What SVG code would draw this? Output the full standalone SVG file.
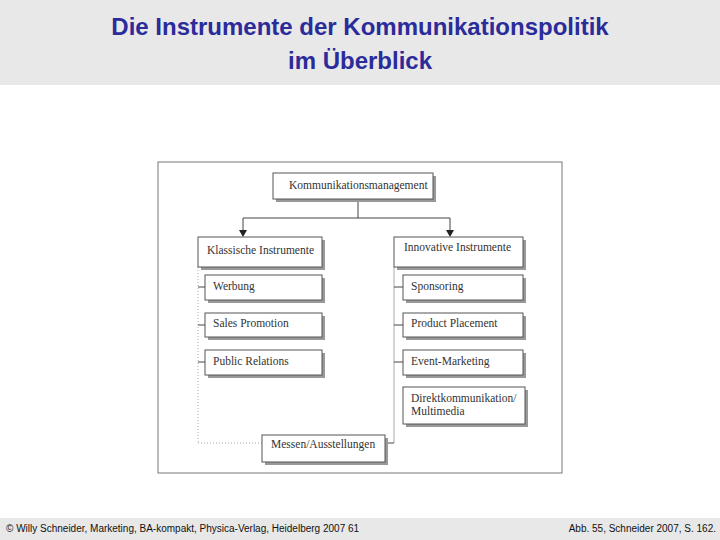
<svg xmlns="http://www.w3.org/2000/svg" width="720" height="540" viewBox="0 0 720 540">
<defs>
<style>
.t{font-family:"Liberation Serif",serif;font-size:11.5px;fill:#333}
.b{fill:#fff;stroke:#555;stroke-width:1}
.s{fill:#999}
.l{stroke:#444;stroke-width:1;fill:none}
.g{stroke:#aaa;stroke-width:1;fill:none}
</style>
</defs>
<rect width="720" height="540" fill="#fff"/>
<rect width="720" height="85" fill="#e8e8e8"/>
<text x="360" y="35" text-anchor="middle" font-family="Liberation Sans,sans-serif" font-weight="bold" font-size="24" fill="#2b2b9a">Die Instrumente der Kommunikationspolitik</text>
<text x="360" y="69" text-anchor="middle" font-family="Liberation Sans,sans-serif" font-weight="bold" font-size="24" fill="#2b2b9a">im Überblick</text>
<rect x="0" y="518" width="720" height="22" fill="#e8e8e8"/>
<text x="6" y="532" font-family="Liberation Sans,sans-serif" font-size="10" fill="#111">© Willy Schneider, Marketing, BA-kompakt, Physica-Verlag, Heidelberg 2007  61</text>
<text x="716" y="532" text-anchor="end" font-family="Liberation Sans,sans-serif" font-size="10" fill="#111">Abb. 55, Schneider 2007, S. 162.</text>
<rect x="158" y="162" width="404" height="311" fill="#fff" stroke="#777"/>
<g id="connectors">
<path class="l" d="M358,200 V218 M243,218 H450 M243,218 V230 M450,218 V230"/>
<path d="M239,230 H247 L243,237 Z M446,230 H454 L450,237 Z" fill="#222"/>
<path class="g" d="M198,267 V443" stroke-dasharray="1,2"/>
<path class="g" d="M198,443 H262" stroke-dasharray="1,2"/>
<path class="g" d="M394,267 V443"/>
<path class="l" d="M394,443 H385"/>
<path class="l" d="M198,287 H205 M198,325 H205 M198,362 H205 M394,287 H403 M394,325 H403 M394,362 H403"/>
</g>
<g id="n1"><rect class="s" x="276" y="176" width="160" height="26"/><rect class="b" x="273" y="173" width="160" height="26"/><text class="t" x="289" y="189">Kommunikationsmanagement</text></g>
<g id="n2"><rect class="s" x="201" y="240" width="124" height="30"/><rect class="b" x="198" y="237" width="124" height="30" stroke="#ccc"/><text class="t" x="207" y="254">Klassische Instrumente</text></g>
<g id="n3"><rect class="s" x="397" y="240" width="129" height="30"/><rect class="b" x="394" y="237" width="129" height="30" stroke="#ccc"/><text class="t" x="404" y="251">Innovative Instrumente</text></g>
<g id="n4"><rect class="s" x="208" y="278" width="117" height="25"/><rect class="b" x="205" y="275" width="117" height="25"/><text class="t" x="213" y="290">Werbung</text></g>
<g id="n5"><rect class="s" x="208" y="316" width="117" height="24"/><rect class="b" x="205" y="313" width="117" height="24"/><text class="t" x="213" y="327">Sales Promotion</text></g>
<g id="n6"><rect class="s" x="208" y="353" width="117" height="25"/><rect class="b" x="205" y="350" width="117" height="25"/><text class="t" x="213" y="365">Public Relations</text></g>
<g id="n7"><rect class="s" x="406" y="278" width="120" height="25"/><rect class="b" x="403" y="275" width="120" height="25"/><text class="t" x="411" y="290">Sponsoring</text></g>
<g id="n8"><rect class="s" x="406" y="316" width="120" height="24"/><rect class="b" x="403" y="313" width="120" height="24"/><text class="t" x="411" y="327">Product Placement</text></g>
<g id="n9"><rect class="s" x="406" y="353" width="120" height="25"/><rect class="b" x="403" y="350" width="120" height="25"/><text class="t" x="411" y="365">Event-Marketing</text></g>
<g id="n10"><rect class="s" x="406" y="390" width="122" height="37"/><rect class="b" x="403" y="387" width="122" height="37"/><text class="t" x="411" y="402">Direktkommunikation/</text><text class="t" x="411" y="415">Multimedia</text></g>
<g id="n11"><rect class="s" x="265" y="438" width="123" height="27"/><rect class="b" x="262" y="435" width="123" height="27"/><text class="t" x="271" y="448">Messen/Ausstellungen</text></g>
</svg>
